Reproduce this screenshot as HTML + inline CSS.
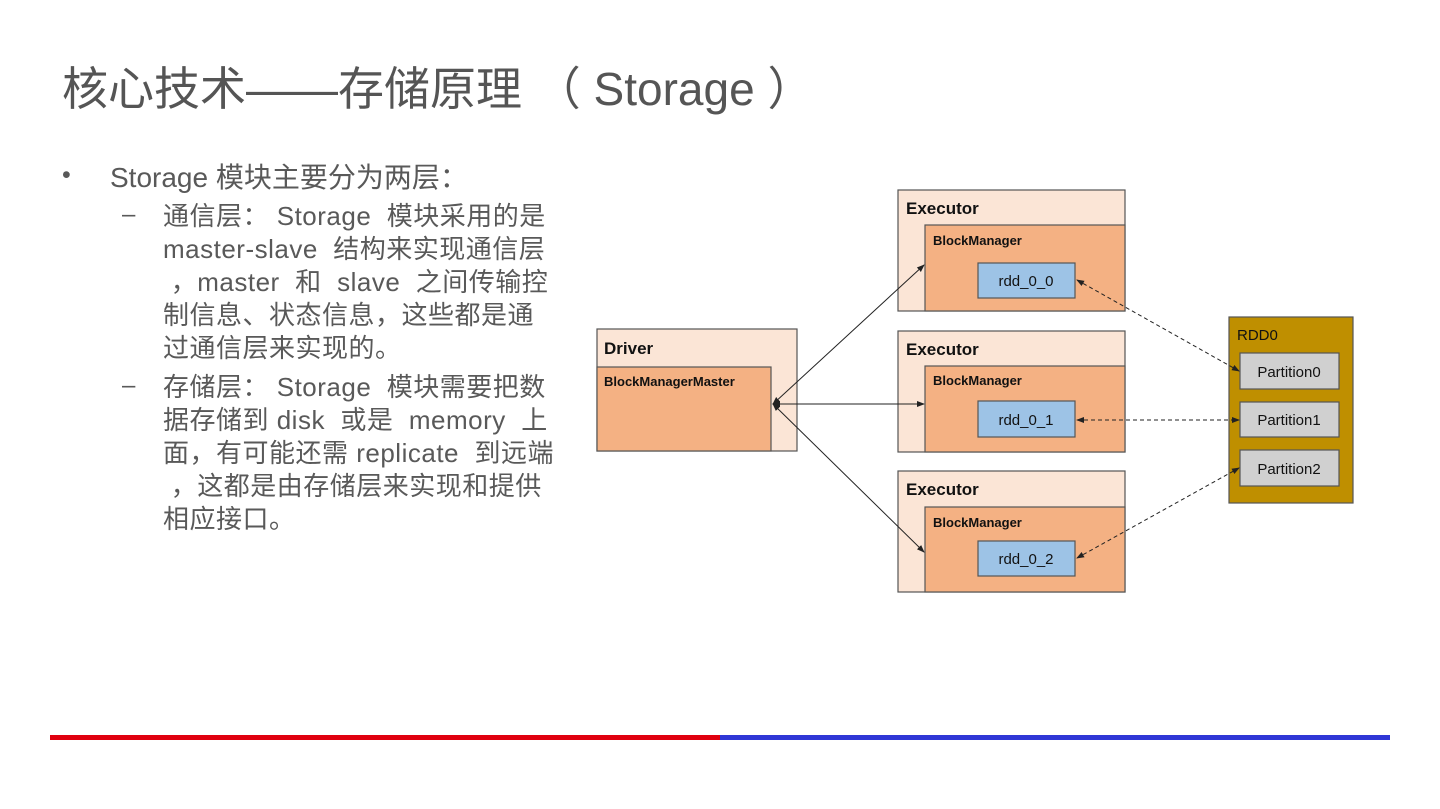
<!DOCTYPE html>
<html><head><meta charset="utf-8"><style>
body{margin:0;width:1440px;height:809px;background:#fff;position:relative;overflow:hidden;font-family:"Liberation Sans","Noto Sans CJK SC",sans-serif;color:#595959}
.t{position:absolute;white-space:nowrap}
</style></head><body>
<div class="t" style="left:62px;top:53px;font-size:46px;color:#555">核心技术——存储原理 （ Storage ）</div>
<div class="t" style="left:62px;top:161px;font-size:25px">•</div>
<div class="t" style="left:110px;top:160px;font-size:28px;line-height:36px">Storage 模块主要分为两层：</div>
<div class="t" style="left:122px;top:201px;font-size:24px">–</div>
<div class="t" style="left:163px;top:200px;font-size:26px;line-height:33px;letter-spacing:0.5px">通信层： Storage &nbsp;模块采用的是<br>master-slave &nbsp;结构来实现通信层<br>&nbsp;，master &nbsp;和 &nbsp;slave &nbsp;之间传输控<br>制信息、状态信息，这些都是通<br>过通信层来实现的。</div>
<div class="t" style="left:122px;top:372px;font-size:24px">–</div>
<div class="t" style="left:163px;top:371px;font-size:26px;line-height:33px;letter-spacing:0.5px">存储层： Storage &nbsp;模块需要把数<br>据存储到 disk &nbsp;或是 &nbsp;memory &nbsp;上<br>面，有可能还需 replicate &nbsp;到远端<br>&nbsp;，这都是由存储层来实现和提供<br>相应接口。</div>
<svg width="1440" height="809" style="position:absolute;left:0;top:0" font-family="Liberation Sans, sans-serif">
<defs><marker id="a" markerWidth="8" markerHeight="8" refX="7" refY="4" orient="auto-start-reverse"><path d="M0,1 L8,4 L0,7z" fill="#222"/></marker></defs>
<g stroke="#555" stroke-width="1.2">
<rect x="597" y="329" width="200" height="122" fill="#fbe5d6"/>
<rect x="597" y="367" width="174" height="84" fill="#f4b183"/>
<rect x="898" y="190" width="227" height="121" fill="#fbe5d6"/>
<rect x="925" y="225" width="200" height="86" fill="#f4b183"/>
<rect x="978" y="263" width="97" height="35" fill="#9dc3e6"/>
<rect x="898" y="331" width="227" height="121" fill="#fbe5d6"/>
<rect x="925" y="366" width="200" height="86" fill="#f4b183"/>
<rect x="978" y="401" width="97" height="36" fill="#9dc3e6"/>
<rect x="898" y="471" width="227" height="121" fill="#fbe5d6"/>
<rect x="925" y="507" width="200" height="85" fill="#f4b183"/>
<rect x="978" y="541" width="97" height="35" fill="#9dc3e6"/>
<rect x="1229" y="317" width="124" height="186" fill="#bf8f00"/>
<rect x="1240" y="353" width="99" height="36" fill="#d0d0d0"/>
<rect x="1240" y="402" width="99" height="35" fill="#d0d0d0"/>
<rect x="1240" y="450" width="99" height="36" fill="#d0d0d0"/>
</g>
<g stroke="#222" stroke-width="1" fill="none">
<line x1="773" y1="404" x2="924" y2="265" marker-start="url(#a)" marker-end="url(#a)"/>
<line x1="773" y1="404" x2="924" y2="404" marker-start="url(#a)" marker-end="url(#a)"/>
<line x1="773" y1="404" x2="924" y2="552" marker-start="url(#a)" marker-end="url(#a)"/>
<g stroke-dasharray="4,3">
<line x1="1077" y1="280" x2="1239" y2="371" marker-start="url(#a)" marker-end="url(#a)"/>
<line x1="1077" y1="420" x2="1239" y2="420" marker-start="url(#a)" marker-end="url(#a)"/>
<line x1="1077" y1="558" x2="1239" y2="468" marker-start="url(#a)" marker-end="url(#a)"/>
</g></g>
<g fill="#111" font-weight="bold">
<text x="604" y="354" font-size="17">Driver</text>
<text x="604" y="386" font-size="13">BlockManagerMaster</text>
<text x="906" y="214" font-size="17">Executor</text>
<text x="933" y="245" font-size="13">BlockManager</text>
<text x="906" y="355" font-size="17">Executor</text>
<text x="933" y="385" font-size="13">BlockManager</text>
<text x="906" y="495" font-size="17">Executor</text>
<text x="933" y="527" font-size="13">BlockManager</text>
</g>
<g fill="#111" font-size="15" text-anchor="middle">
<text x="1026" y="286">rdd_0_0</text><text x="1026" y="425">rdd_0_1</text><text x="1026" y="564">rdd_0_2</text>
<text x="1289" y="377">Partition0</text><text x="1289" y="425">Partition1</text><text x="1289" y="474">Partition2</text>
<text x="1237" y="340" text-anchor="start">RDD0</text>
</g>
<rect x="50" y="735" width="670" height="5" fill="#e0000f"/>
<rect x="720" y="735" width="670" height="5" fill="#2f37d6"/>
</svg>
</body></html>
